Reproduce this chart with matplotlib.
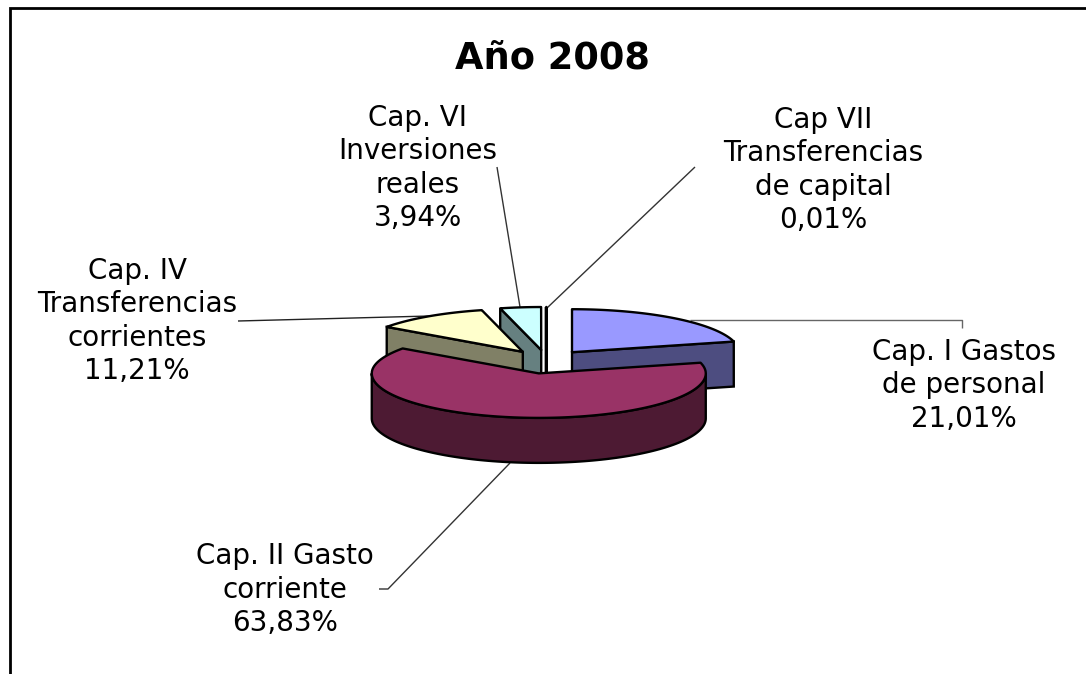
import matplotlib
matplotlib.use('Agg')
import matplotlib.pyplot as plt
import numpy as np

plt.rcParams['font.family'] = ['DejaVu Sans']

title = 'Año 2008'
labels = ['Cap. I Gastos\nde personal\n21,01%',
          'Cap. II Gasto\ncorriente\n63,83%',
          'Cap. IV\nTransferencias\ncorrientes\n11,21%',
          'Cap. VI\nInversiones\nreales\n3,94%',
          'Cap VII\nTransferencias\nde capital\n0,01%']
values = [21.01, 63.83, 11.21, 3.94, 0.01]
tops = ['#9999ff', '#993366', '#ffffcc', '#ccffff', '#660066']
sides = ['#4d4d80', '#4d1a33', '#808066', '#668080', '#330033']

# pie layout in pixels
cx, cy = 546.4, 360.7
rx = 167
ry_back, ry_front = 43, 44.5
depth = 45
explode = 0.25
lw = 1.7

label_pos = [(964, 385), (285, 590), (137, 321), (418, 168), (823, 170)]
leaders = [[(962, 328), (962, 320), (690, 320)],
           [(379, 589), (388, 589), (510, 463)],
           [(238, 321), (430, 316)],
           [(497, 167), (520, 307)],
           [(695, 167), (547, 308)]]
leader_cols = ['#666666', '#333333', '#222222', '#333333', '#333333']

fig = plt.figure(figsize=(10.86, 6.74), dpi=100)
ax = fig.add_axes([0, 0, 1, 1])
ax.set_xlim(0, 1086)
ax.set_ylim(674, 0)
ax.axis('off')


def pt(ang, x0, y0):
    c = np.cos(ang)
    return x0 + rx * np.sin(ang), y0 - np.where(c > 0, ry_back, ry_front) * c


# leader lines sit behind the pie
for line, col in zip(leaders, leader_cols):
    xs, ys = zip(*line)
    ax.plot(xs, ys, color=col, lw=1.0, zorder=1, solid_capstyle='butt')

edges = np.radians(np.cumsum([0] + values) * 3.6)
# draw back slices first, the big front one last
order = [3, 4, 2, 0, 1]
for z, i in enumerate(order):
    a0, a1 = edges[i], edges[i + 1]
    mid = (a0 + a1) / 2
    x0 = cx + explode * rx * np.sin(mid)
    # slices coming forward move a bit more, it is a perspective view
    y0 = cy - explode * ry_back * np.cos(mid) * (1.2 if np.cos(mid) < 0 else 1)
    z += 3
    # cut faces
    for a in (a0, a1):
        ex, ey = pt(a, x0, y0)
        # only faces turned to the viewer
        if (a == a1 and np.sin(a) > 0) or (a == a0 and np.sin(a) < 0):
            ax.fill([x0, ex, ex, x0], [y0, ey, ey + depth, y0 + depth],
                    facecolor=sides[i], edgecolor='black', lw=lw, zorder=z)
    # outer rim
    r0, r1 = max(a0, np.pi / 2), min(a1, 3 * np.pi / 2)
    if r1 > r0:
        t = np.linspace(r0, r1, 120)
        rimx, rimy = pt(t, x0, y0)
        ax.fill(np.r_[rimx, rimx[::-1]], np.r_[rimy, rimy[::-1] + depth],
                facecolor=sides[i], edgecolor='black', lw=lw, zorder=z)
    t = np.linspace(a0, a1, 160)
    ax_, ay_ = pt(t, x0, y0)
    ax.fill(np.r_[x0, ax_], np.r_[y0, ay_], facecolor=tops[i],
            edgecolor='black', lw=lw, zorder=z, joinstyle='round')

for lab, (x, y) in zip(labels, label_pos):
    ax.text(x, y, lab, ha='center', va='center', fontsize=20, color='black',
            linespacing=1.25, zorder=10)
ax.text(552, 58, title, ha='center', va='center', fontsize=26.5,
        fontweight='bold', color='black', zorder=10)

# outer frame, only top and left are inside the picture
ax.plot([10.3, 10.3, 1086], [674, 7.5, 7.5], color='black', lw=2.0,
        zorder=0, solid_joinstyle='miter')

fig.savefig('out.png', dpi=100)
